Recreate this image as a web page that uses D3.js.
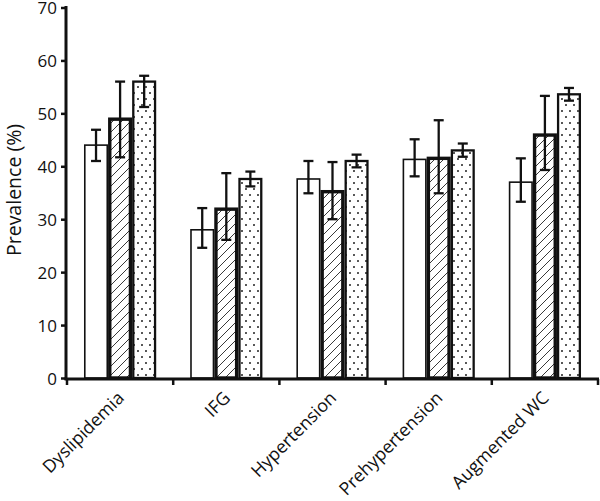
<!DOCTYPE html>
<html><head><meta charset="utf-8">
<script src="https://cdn.jsdelivr.net/npm/d3@7"></script>
<style>body{margin:0;background:#fff;} svg{display:block;}</style>
</head><body>
<svg id="c" width="600" height="501"></svg>
<script>
const categories = ["Dyslipidemia","IFG","Hypertension","Prehypertension","Augmented WC"];
const series1 = [44.0, 28.0, 37.6, 41.3, 37.0];
const series1Lo = [41.0, 24.6, 34.9, 38.1, 33.3];
const series1Hi = [46.9, 32.1, 41.0, 45.1, 41.5];
const series2 = [48.9, 31.9, 35.2, 41.5, 45.9];
const series2Lo = [41.7, 26.1, 30.0, 34.9, 39.3];
const series2Hi = [56.0, 38.7, 40.8, 48.7, 53.3];
const series3 = [56.0, 37.6, 41.0, 43.0, 53.6];
const series3Lo = [51.2, 36.2, 39.8, 41.8, 52.4];
const series3Hi = [57.1, 39.0, 42.2, 44.3, 54.8];
const yTicks = [0,10,20,30,40,50,60,70];

const svg = d3.select("#c");
const font = "'Open Sans', sans-serif";
const defs = svg.append("defs");
const hatch = defs.append("pattern").attr("id","hatch").attr("patternUnits","userSpaceOnUse")
  .attr("width",9).attr("height",9);
hatch.append("rect").attr("width",9).attr("height",9).attr("fill","#fff");
hatch.append("path").attr("d","M-1,10 L10,-1 M-5,5 L5,-5 M4,14 L14,4").attr("stroke","#222").attr("stroke-width",0.9);
const dots = defs.append("pattern").attr("id","dots").attr("patternUnits","userSpaceOnUse")
  .attr("width",8).attr("height",12);
dots.append("rect").attr("width",8).attr("height",12).attr("fill","#fff");
[[2,3],[6,9]].forEach(([cx,cy])=>{
  dots.append("circle").attr("cx",cx).attr("cy",cy).attr("r",0.95).attr("fill","#111");
});

const y = d3.scaleLinear().domain([0,70]).range([378,7.5]);
const x0 = d3.scaleBand().domain(categories).range([67,598]).paddingInner(0.32).paddingOuter(0.16);
const seriesKeys = ["s1","s2","s3"];
const x1 = d3.scaleBand().domain(seriesKeys).range([0,x0.bandwidth()]);

const data = [
  {key:"s1", v:series1, lo:series1Lo, hi:series1Hi, fill:"#fff", sw:1.6},
  {key:"s2", v:series2, lo:series2Lo, hi:series2Hi, fill:"url(#hatch)", sw:3.4},
  {key:"s3", v:series3, lo:series3Lo, hi:series3Hi, fill:"url(#dots)", sw:2.3}
];

const g = svg.append("g");
data.forEach(s=>{
  const sg = g.append("g");
  sg.selectAll("rect").data(categories).join("rect")
    .attr("x",(c)=>x0(c)+x1(s.key)+s.sw/2)
    .attr("y",(c,i)=>y(s.v[i]))
    .attr("width",x1.bandwidth()-s.sw)
    .attr("height",(c,i)=>y(0)-y(s.v[i]))
    .attr("fill",s.fill).attr("stroke","#111").attr("stroke-width",s.sw);
});
data.forEach(s=>{
  const eg = g.append("g").attr("stroke","#111").attr("stroke-width",2.3);
  categories.forEach((c,i)=>{
    const cx = x0(c)+x1(s.key)+x1.bandwidth()/2;
    eg.append("line").attr("x1",cx).attr("x2",cx).attr("y1",y(s.lo[i])).attr("y2",y(s.hi[i]));
    eg.append("line").attr("x1",cx-5).attr("x2",cx+5).attr("y1",y(s.hi[i])).attr("y2",y(s.hi[i]));
    eg.append("line").attr("x1",cx-5).attr("x2",cx+5).attr("y1",y(s.lo[i])).attr("y2",y(s.lo[i]));
  });
});

// Y axis
const yAxis = svg.append("g").attr("transform","translate(66,0)")
  .call(d3.axisLeft(y).tickValues(yTicks).tickSize(5).tickPadding(4));
yAxis.select(".domain").attr("stroke","#111").attr("stroke-width",3).attr("d","M0,6V380");
yAxis.selectAll(".tick line").attr("stroke","#111").attr("stroke-width",2.5);
yAxis.selectAll("text").attr("font-family",font).attr("font-size",17).attr("fill","#111").attr("dy","0.38em");

// X axis
const xLine = svg.append("g");
const edges = [67].concat(categories.map((c,i)=>67+x0.step()*(i+1)));
xLine.append("line").attr("x1",64.5).attr("x2",599).attr("y1",379).attr("y2",379).attr("stroke","#111").attr("stroke-width",3);
xLine.selectAll("line.t").data(edges).join("line").attr("class","t")
  .attr("x1",d=>d).attr("x2",d=>d).attr("y1",379).attr("y2",385).attr("stroke","#111").attr("stroke-width",2.5);
xLine.selectAll("text").data(categories).join("text")
  .attr("transform",c=>`translate(${x0(c)+x0.bandwidth()/2-4},390) rotate(-45)`)
  .attr("text-anchor","end").attr("dy","0.72em")
  .attr("font-family",font).attr("font-size",17.8).attr("fill","#111").text(c=>c);

svg.append("text").attr("transform","translate(21,190) rotate(-90)")
  .attr("text-anchor","middle").attr("font-family",font).attr("font-size",19.5).attr("fill","#111")
  .text("Prevalence (%)");
</script>
</body></html>
